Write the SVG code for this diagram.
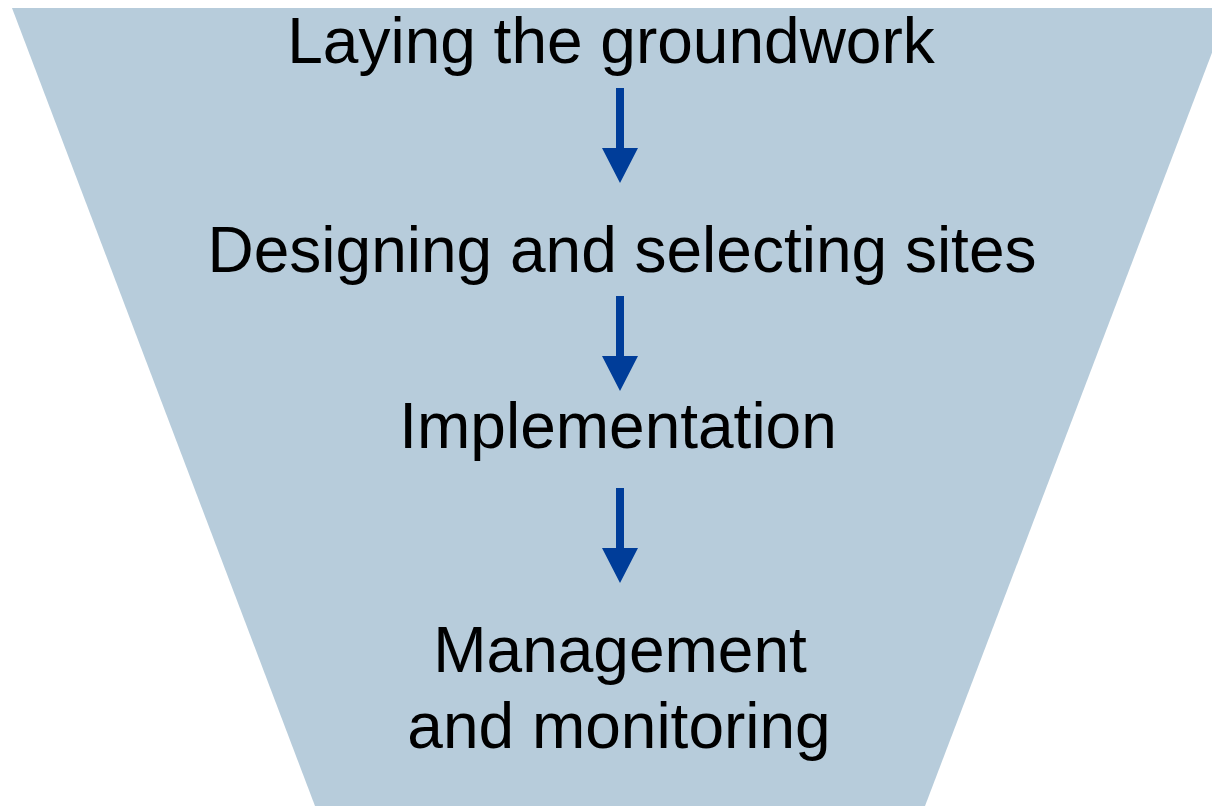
<svg xmlns="http://www.w3.org/2000/svg" width="1212" height="806" viewBox="0 0 1212 806">
<style>
.t{font-family:"Liberation Sans",Arial,sans-serif;font-size:64px;fill:#000;text-anchor:middle}
.a{fill:#003D99}
</style>
<rect width="1212" height="806" fill="#fff"/>
<g id="funnel"><polygon points="12,8 1229,8 925,806 315,806" fill="#B7CCDB"/></g>
<g id="n1"><text class="t" x="611" y="63">Laying the groundwork</text></g>
<g id="n2"><text class="t" x="622" y="272">Designing and selecting sites</text></g>
<g id="n3"><text class="t" x="618" y="448">Implementation</text></g>
<g id="n4"><text class="t" x="620" y="672">Management</text><text class="t" x="619" y="748">and monitoring</text></g>
<g id="connectors">
<path class="a" d="M616,88H624V148H638L620,183L602,148H616Z"/>
<path class="a" d="M616,296H624V356H638L620,391L602,356H616Z"/>
<path class="a" d="M616,488H624V548H638L620,583L602,548H616Z"/>
</g>
</svg>
